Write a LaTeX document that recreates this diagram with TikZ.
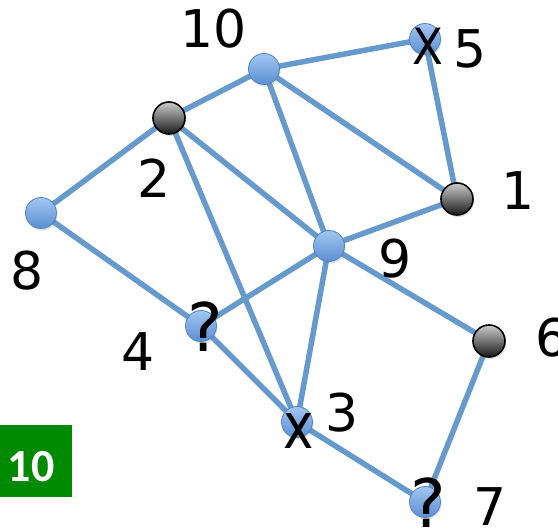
\documentclass[tikz,border=0pt]{standalone}
\usepackage{fontspec}
\setmainfont{DejaVu Sans}
\newfontfamily\boxfont{Carlito}
\usetikzlibrary{shadows}
\definecolor{edgeblue}{HTML}{6699CC}
\definecolor{nodetop}{HTML}{A2C6F2}
\definecolor{nodebot}{HTML}{5B8FD3}
\definecolor{nodeborder}{HTML}{4F84C4}
\definecolor{boxgreen}{HTML}{008A00}
\tikzset{
  bnode/.style={circle, minimum size=31pt, inner sep=0pt, draw=nodeborder, line width=0.8pt,
    top color=nodetop, bottom color=nodebot,
    drop shadow={opacity=0.25, shadow xshift=1pt, shadow yshift=-2pt}},
  dnode/.style={circle, minimum size=32pt, inner sep=0pt, draw=black, line width=1.6pt,
    top color=white!80!black, bottom color=black!90,
    drop shadow={opacity=0.25, shadow xshift=1pt, shadow yshift=-2pt}},
  lbl/.style={inner sep=0pt, font=\fontsize{52}{52}\selectfont},
  xmark/.style={inner sep=0pt, font=\fontsize{50}{50}\selectfont, xscale=0.9},
  lxmark/.style={inner sep=0pt, font=\fontsize{64}{64}\selectfont, xscale=0.8},
  qmark/.style={inner sep=0pt, font=\fontsize{67}{67}\selectfont},
  link/.style={draw=edgeblue, line width=5.5pt}
}
\begin{document}
\begin{tikzpicture}[x=1pt, y=-1pt]
\useasboundingbox (0,0) rectangle (558,529);
% node coordinates
\coordinate (p10) at (264,69);
\coordinate (p5) at (425,39);
\coordinate (p2) at (169,118);
\coordinate (p1) at (457,199);
\coordinate (p8) at (41,213);
\coordinate (p9) at (329,246);
\coordinate (p4) at (201,326);
\coordinate (p6) at (489,341);
\coordinate (p3) at (297,422);
\coordinate (p7) at (425,502);
% edges
\draw[link] (p10) -- (p5);
\draw[link] (p10) -- (p2);
\draw[link] (p10) -- (p9);
\draw[link] (p10) -- (p1);
\draw[link] (p5) -- (p1);
\draw[link] (p2) -- (p8);
\draw[link] (p2) -- (p9);
\draw[link] (p2) -- (p3);
\draw[link] (p9) -- (p1);
\draw[link] (p9) -- (p4);
\draw[link] (p9) -- (p3);
\draw[link] (p9) -- (p6);
\draw[link] (p8) -- (p4);
\draw[link] (p4) -- (p3);
\draw[link] (p3) -- (p7);
\draw[link] (p7) -- (p6);
% nodes
\node[bnode] (n10) at (p10) {};
\node[bnode] (n5) at (p5) {};
\node[dnode] (n2) at (p2) {};
\node[dnode] (n1) at (p1) {};
\node[bnode] (n8) at (p8) {};
\node[bnode] (n9) at (p9) {};
\node[bnode] (n4) at (p4) {};
\node[dnode] (n6) at (p6) {};
\node[bnode] (n3) at (p3) {};
\node[bnode] (n7) at (p7) {};
% marks
\node[xmark] (m5) at (428,46) {X};
\node[lxmark] (m3) at (299,431) {x};
\node[qmark] (m4) at (205,327) {?};
\node[qmark] (m7) at (428,503) {?};
% labels
\node[lbl] (l10) at (214,29) {10};
\node[lbl] (l5) at (470,49) {5};
\node[lbl] (l2) at (154,178) {2};
\node[lbl] (l1) at (518,191) {1};
\node[lbl] (l8) at (27,271) {8};
\node[lbl] (l9) at (395,259) {9};
\node[lbl] (l4) at (138,352) {4};
\node[lbl] (l6) at (552,338) {6};
\node[lbl] (l3) at (342,413) {3};
\node[lbl] (l7) at (490,507) {7};
% green box
\node[fill=boxgreen, minimum width=72pt, minimum height=72pt, inner sep=0pt, anchor=north west] (score) at (0,425) {};
\node[inner sep=0pt, text=white, font=\boxfont\bfseries\fontsize{46}{46}\selectfont] (scoretext) at (31,467) {10};
\end{tikzpicture}
\end{document}
